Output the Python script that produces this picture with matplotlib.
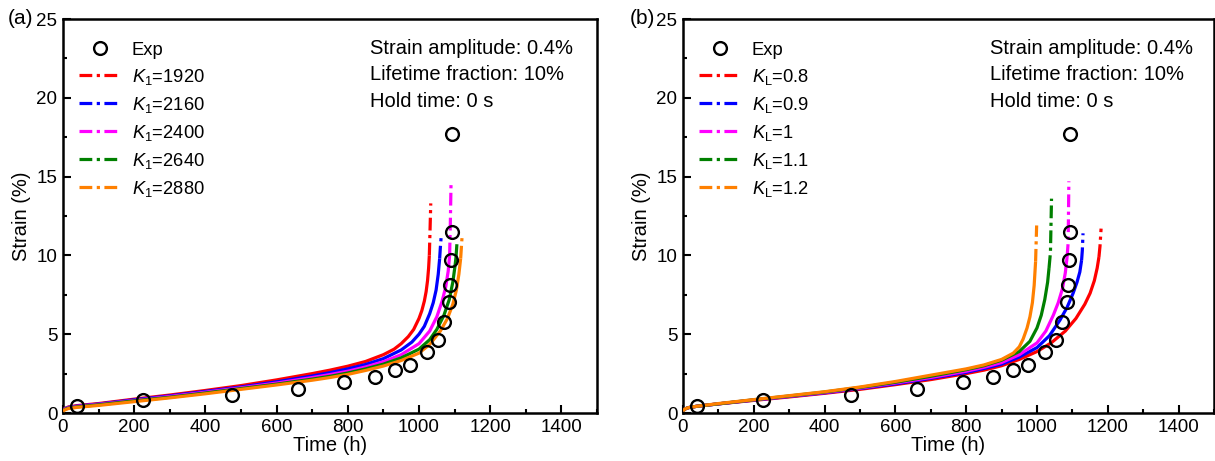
import matplotlib
matplotlib.use("Agg")
import matplotlib.pyplot as plt
from matplotlib.ticker import MultipleLocator

plt.rcParams['font.family'] = ['Liberation Sans', 'DejaVu Sans']
plt.rcParams['mathtext.fontset'] = 'custom'
plt.rcParams['mathtext.rm'] = 'Liberation Sans'
plt.rcParams['mathtext.it'] = 'Liberation Sans:italic'

# ---------------- data ----------------
t_exp = [40, 225, 475, 660, 790, 876, 932, 975, 1023, 1054, 1070, 1085, 1087, 1090, 1093, 1093]
e_exp = [0.45, 0.8, 1.15, 1.55, 1.95, 2.3, 2.7, 3.05, 3.85, 4.65, 5.8, 7.05, 8.1, 9.7, 11.5, 17.7]

labels_a = [r'$K_1$=1920', r'$K_1$=2160', r'$K_1$=2400', r'$K_1$=2640', r'$K_1$=2880']
labels_b = [r'$K_\mathrm{L}$=0.8', r'$K_\mathrm{L}$=0.9', r'$K_\mathrm{L}$=1', r'$K_\mathrm{L}$=1.1', r'$K_\mathrm{L}$=1.2']
colors = ['#ff0000', '#0000ff', '#ff00ff', '#008000', '#ff8000']

# panel (a) curves
t_a1920 = [0, 5, 15, 40, 100, 200, 300, 400, 500, 600, 700, 750, 800, 850, 900, 930, 950, 970, 985, 1000, 1008, 1015, 1020, 1024, 1027, 1029, 1031, 1033]
e_a1920 = [0.15, 0.28, 0.38, 0.47, 0.6, 0.88, 1.14, 1.43, 1.74, 2.1, 2.5, 2.72, 2.97, 3.27, 3.7, 4.05, 4.4, 4.85, 5.3, 6.0, 6.5, 7.1, 7.7, 8.4, 9.2, 10.0, 11.6, 13.3]
t_a2160 = [0, 5, 15, 40, 100, 200, 300, 400, 500, 600, 700, 750, 800, 850, 900, 950, 980, 1000, 1015, 1030, 1040, 1048, 1054, 1058, 1060, 1062]
e_a2160 = [0.15, 0.27, 0.36, 0.44, 0.57, 0.84, 1.09, 1.37, 1.65, 1.98, 2.35, 2.56, 2.8, 3.08, 3.45, 4.0, 4.5, 5.0, 5.5, 6.3, 7.0, 7.8, 8.8, 9.8, 10.5, 11.1]
t_a2400 = [0, 5, 15, 40, 100, 200, 300, 400, 500, 600, 700, 750, 800, 850, 900, 950, 1000, 1030, 1050, 1065, 1075, 1082, 1086, 1088, 1090]
e_a2400 = [0.15, 0.26, 0.34, 0.42, 0.55, 0.8, 1.05, 1.32, 1.6, 1.9, 2.25, 2.44, 2.65, 2.92, 3.25, 3.7, 4.4, 5.2, 6.1, 7.1, 8.0, 9.0, 10.0, 12.0, 14.6]
t_a2640 = [0, 5, 15, 40, 100, 200, 300, 400, 500, 600, 700, 750, 800, 850, 900, 950, 1000, 1030, 1050, 1070, 1085, 1095, 1101, 1104, 1107]
e_a2640 = [0.12, 0.23, 0.31, 0.39, 0.52, 0.77, 1.0, 1.27, 1.55, 1.83, 2.15, 2.33, 2.54, 2.8, 3.1, 3.5, 4.05, 4.65, 5.3, 6.2, 7.2, 8.3, 9.3, 9.9, 10.9]
t_a2880 = [0, 5, 15, 40, 100, 200, 300, 400, 500, 600, 700, 750, 800, 850, 900, 950, 1000, 1030, 1060, 1080, 1095, 1105, 1112, 1117, 1121]
e_a2880 = [0.1, 0.2, 0.28, 0.36, 0.48, 0.72, 0.96, 1.22, 1.5, 1.78, 2.08, 2.25, 2.45, 2.7, 2.98, 3.33, 3.8, 4.35, 5.2, 6.0, 6.9, 7.8, 8.8, 9.8, 11.2]

# panel (b) curves
t_b08 = [0, 5, 15, 40, 100, 200, 300, 400, 500, 600, 700, 800, 850, 900, 950, 1000, 1040, 1080, 1110, 1135, 1150, 1162, 1170, 1175, 1178, 1181]
e_b08 = [0.12, 0.25, 0.34, 0.43, 0.58, 0.8, 1.02, 1.25, 1.5, 1.8, 2.12, 2.5, 2.72, 3.0, 3.4, 3.9, 4.45, 5.2, 6.0, 6.9, 7.6, 8.4, 9.2, 9.9, 10.6, 11.7]
t_b09 = [0, 5, 15, 40, 100, 200, 300, 400, 500, 600, 700, 800, 850, 900, 950, 1000, 1035, 1065, 1085, 1102, 1113, 1121, 1126, 1128, 1130]
e_b09 = [0.12, 0.25, 0.34, 0.43, 0.58, 0.82, 1.05, 1.28, 1.55, 1.85, 2.2, 2.58, 2.82, 3.1, 3.55, 4.15, 4.9, 5.9, 6.7, 7.6, 8.3, 8.95, 9.7, 10.3, 11.4]
t_b10 = [0, 5, 15, 40, 100, 200, 300, 400, 500, 600, 700, 800, 850, 900, 950, 1000, 1025, 1046, 1060, 1072, 1080, 1085, 1088, 1090]
e_b10 = [0.12, 0.25, 0.34, 0.43, 0.58, 0.83, 1.06, 1.3, 1.58, 1.9, 2.25, 2.65, 2.9, 3.2, 3.7, 4.45, 5.2, 6.2, 7.0, 7.9, 8.9, 9.9, 10.8, 14.7]
t_b11 = [0, 5, 15, 40, 100, 200, 300, 400, 500, 600, 700, 800, 850, 900, 950, 980, 1000, 1012, 1022, 1030, 1034, 1038, 1041]
e_b11 = [0.12, 0.25, 0.34, 0.43, 0.58, 0.84, 1.08, 1.33, 1.62, 1.95, 2.33, 2.75, 3.0, 3.35, 3.9, 4.55, 5.4, 6.2, 7.2, 8.3, 9.2, 10.2, 13.6]
t_b12 = [0, 5, 15, 40, 100, 200, 300, 400, 500, 600, 700, 800, 850, 900, 933, 950, 961, 972, 980, 987, 992, 996, 999]
e_b12 = [0.12, 0.25, 0.34, 0.43, 0.6, 0.85, 1.1, 1.35, 1.65, 2.0, 2.4, 2.8, 3.05, 3.4, 3.8, 4.2, 4.7, 5.4, 6.1, 7.0, 8.1, 9.6, 11.9]

curves_a = [(t_a1920, e_a1920), (t_a2160, e_a2160), (t_a2400, e_a2400), (t_a2640, e_a2640), (t_a2880, e_a2880)]
curves_b = [(t_b08, e_b08), (t_b09, e_b09), (t_b10, e_b10), (t_b11, e_b11), (t_b12, e_b12)]

annot = ['Strain amplitude: 0.4%', 'Lifetime fraction: 10%', 'Hold time: 0 s']

# ---------------- figure ----------------
W, H = 1215, 461
fig = plt.figure(figsize=(W / 100, H / 100), dpi=100)
ax_a = fig.add_axes([63 / W, (H - 413) / H, (597 - 63) / W, (413 - 19) / H])
ax_b = fig.add_axes([683 / W, (H - 413) / H, (1214 - 683) / W, (413 - 19) / H])

DASH = (0, (4.0, 1.4, 1.0, 1.4))
LW = 2.3


def draw(ax, curves, labels, xtext):
    handles = []
    h_exp = ax.plot(t_exp, e_exp, linestyle='none', marker='o', markersize=9.2,
                    markerfacecolor='none', markeredgecolor='black', markeredgewidth=1.7,
                    label='Exp', zorder=5)[0]
    handles.append(h_exp)
    for (t, e), c, lab in zip(curves, colors, labels):
        k = max(i for i, v in enumerate(e) if v <= 10.05)
        ax.plot(t[:k + 1], e[:k + 1], color=c, lw=LW, solid_capstyle='butt', zorder=3)
        ax.plot(t[k:], e[k:], color=c, lw=LW, linestyle=DASH, zorder=3)
        h = ax.plot([], [], color=c, lw=LW, linestyle=DASH, label=lab)[0]
        handles.append(h)
    ax.set_xlim(0, 1500)
    ax.set_ylim(0, 25)
    ax.xaxis.set_major_locator(MultipleLocator(200))
    ax.xaxis.set_minor_locator(MultipleLocator(100))
    ax.yaxis.set_major_locator(MultipleLocator(5))
    ax.yaxis.set_minor_locator(MultipleLocator(2.5))
    ax.tick_params(which='both', direction='in', top=False, right=False, width=1.5,
                   labelsize=13.5, pad=4)
    ax.tick_params(which='major', length=6)
    ax.tick_params(which='minor', length=3)
    for s in ax.spines.values():
        s.set_linewidth(1.8)
    ax.set_xlabel('Time (h)', fontsize=14.5, labelpad=0)
    ax.set_ylabel('Strain (%)', fontsize=14.5, labelpad=4)
    ax.legend(handles=handles, loc='upper left', bbox_to_anchor=(0.003, 0.98),
              frameon=False, fontsize=13.2, handlelength=2.3, handletextpad=0.55,
              labelspacing=0.44, borderaxespad=0.4)
    for i, txt in enumerate(annot):
        ax.text(xtext, 0.925 - i * 0.067, txt, transform=ax.transAxes, fontsize=14.5,
                ha='left', va='center')


draw(ax_a, curves_a, labels_a, 0.575)
draw(ax_b, curves_b, labels_b, 0.578)

fig.text(21 / W, 1 - 19 / H, '(a)', fontsize=15, ha='center', va='center')
fig.text(642 / W, 1 - 19 / H, '(b)', fontsize=15, ha='center', va='center')

fig.savefig('out.png', dpi=100)
